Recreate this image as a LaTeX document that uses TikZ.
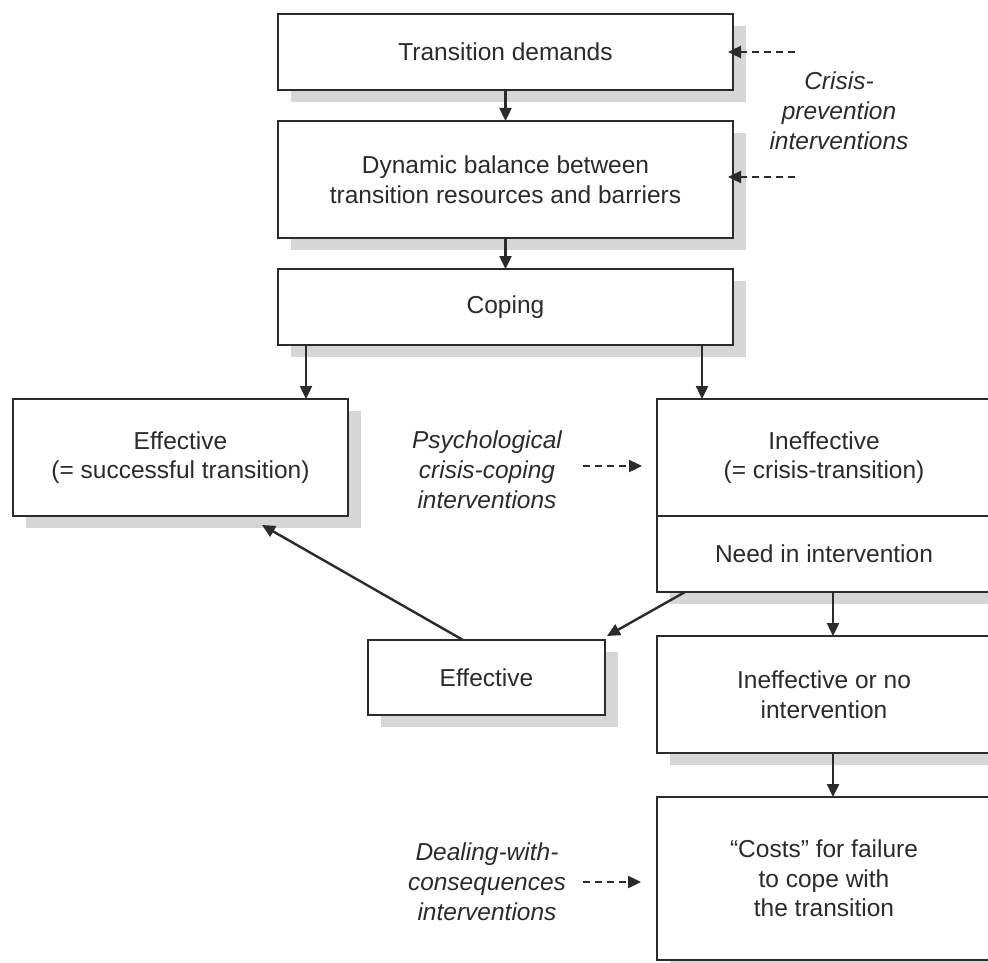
\documentclass[tikz,border=0pt]{standalone}
\usepackage{fontspec}
\setmainfont{Liberation Sans}
\usepackage{tikz}
\usetikzlibrary{arrows.meta, positioning, shadows}
\definecolor{inkgray}{HTML}{2B2B2B}
\definecolor{shadowgray}{HTML}{D6D6D6}
\tikzset{
  stage/.style={
    rectangle, outer sep=0pt,
    text centered, align=center, draw=inkgray, line width=2.6pt,
    fill=white, text=inkgray, font=\fontsize{24.5}{29.5}\selectfont,
    drop shadow={shadow xshift=13pt, shadow yshift=-12pt,
      fill=shadowgray, draw=none, opacity=1},
  },
  flowbox/.style={stage, minimum width=455pt},
  sidebox/.style={stage, minimum width=334pt},
  note/.style={
    align=center, text=inkgray,
    font=\fontsize{24.5}{30}\selectfont\itshape,
  },
  arrow/.style={-{Triangle[length=13pt, width=12pt]}, line width=2.4pt, color=inkgray},
  dasharrow/.style={arrow, dash pattern=on 7pt off 5pt},
}

\begin{document}
\begin{tikzpicture}[x=1pt, y=-1pt]
  \useasboundingbox (0,0) rectangle (988,963);
  \clip (0,0) rectangle (988,963);

  \node[flowbox, minimum height=76pt] (demands) at (505.5,52) {Transition demands};
  \node[flowbox, minimum height=117pt, below=31pt of demands] (balance)
    {Dynamic balance between\\transition resources and barriers};
  \node[flowbox, minimum height=76pt, below=31pt of balance] (coping) {Coping};

  \node[stage, minimum width=335pt, minimum height=117pt] (success) at (180.5,457.5)
    {Effective\\(= successful transition)};
  \node[sidebox, minimum height=117pt] (crisis) at (824,457.5)
    {Ineffective\\(= crisis-transition)};
  \node[sidebox, minimum height=76pt, below=0pt of crisis] (need) {Need in intervention};
  \node[sidebox, minimum height=117pt, below=44pt of need] (noint)
    {Ineffective or no\\intervention};
  \node[sidebox, minimum height=163pt, below=44pt of noint] (costs)
    {``Costs'' for failure\\to cope with\\the transition};
  \node[stage, minimum width=237pt, minimum height=75pt] (effsmall) at (486.5,677.5) {Effective};

  \node[note] (prevent) at (839,111) {Crisis-\\prevention\\interventions};
  \node[note] (psych) at (487,470) {Psychological\\crisis-coping\\interventions};
  \node[note] (deal) at (487,882) {Dealing-with-\\consequences\\interventions};

  \coordinate (p1) at (795,52);
  \coordinate (p2) at (795,177);
  \coordinate (p3) at (583,466);
  \coordinate (p4) at (583,882);

  \draw[arrow] (demands) -- (balance);
  \draw[arrow] (balance) -- (coping);
  \draw[arrow] ([xshift=-199.5pt]coping.south) -- ([xshift=-199.5pt]coping.south |- success.north);
  \draw[arrow] ([xshift=196.5pt]coping.south) -- ([xshift=196.5pt]coping.south |- crisis.north);
  \draw[arrow] ([xshift=9pt]need.south) -- ([xshift=9pt]noint.north);
  \draw[arrow] ([xshift=9pt]noint.south) -- ([xshift=9pt]costs.north);
  \draw[arrow] ([xshift=28pt]need.south west) -- ([shift={(2pt,4pt)}]effsmall.north east);
  \draw[arrow] ([xshift=-23.5pt]effsmall.north) -- ([shift={(81.5pt,-9pt)}]success.south);

  \draw[dasharrow, shorten >=-5pt] (p1) -- (p1 -| demands.east);
  \draw[dasharrow, shorten >=-5pt] (p2) -- (p2 -| balance.east);
  \draw[dasharrow, shorten >=15pt] (p3) -- (p3 -| crisis.west);
  \draw[dasharrow, shorten >=16pt] (p4) -- (p4 -| costs.west);

\end{tikzpicture}
\end{document}
